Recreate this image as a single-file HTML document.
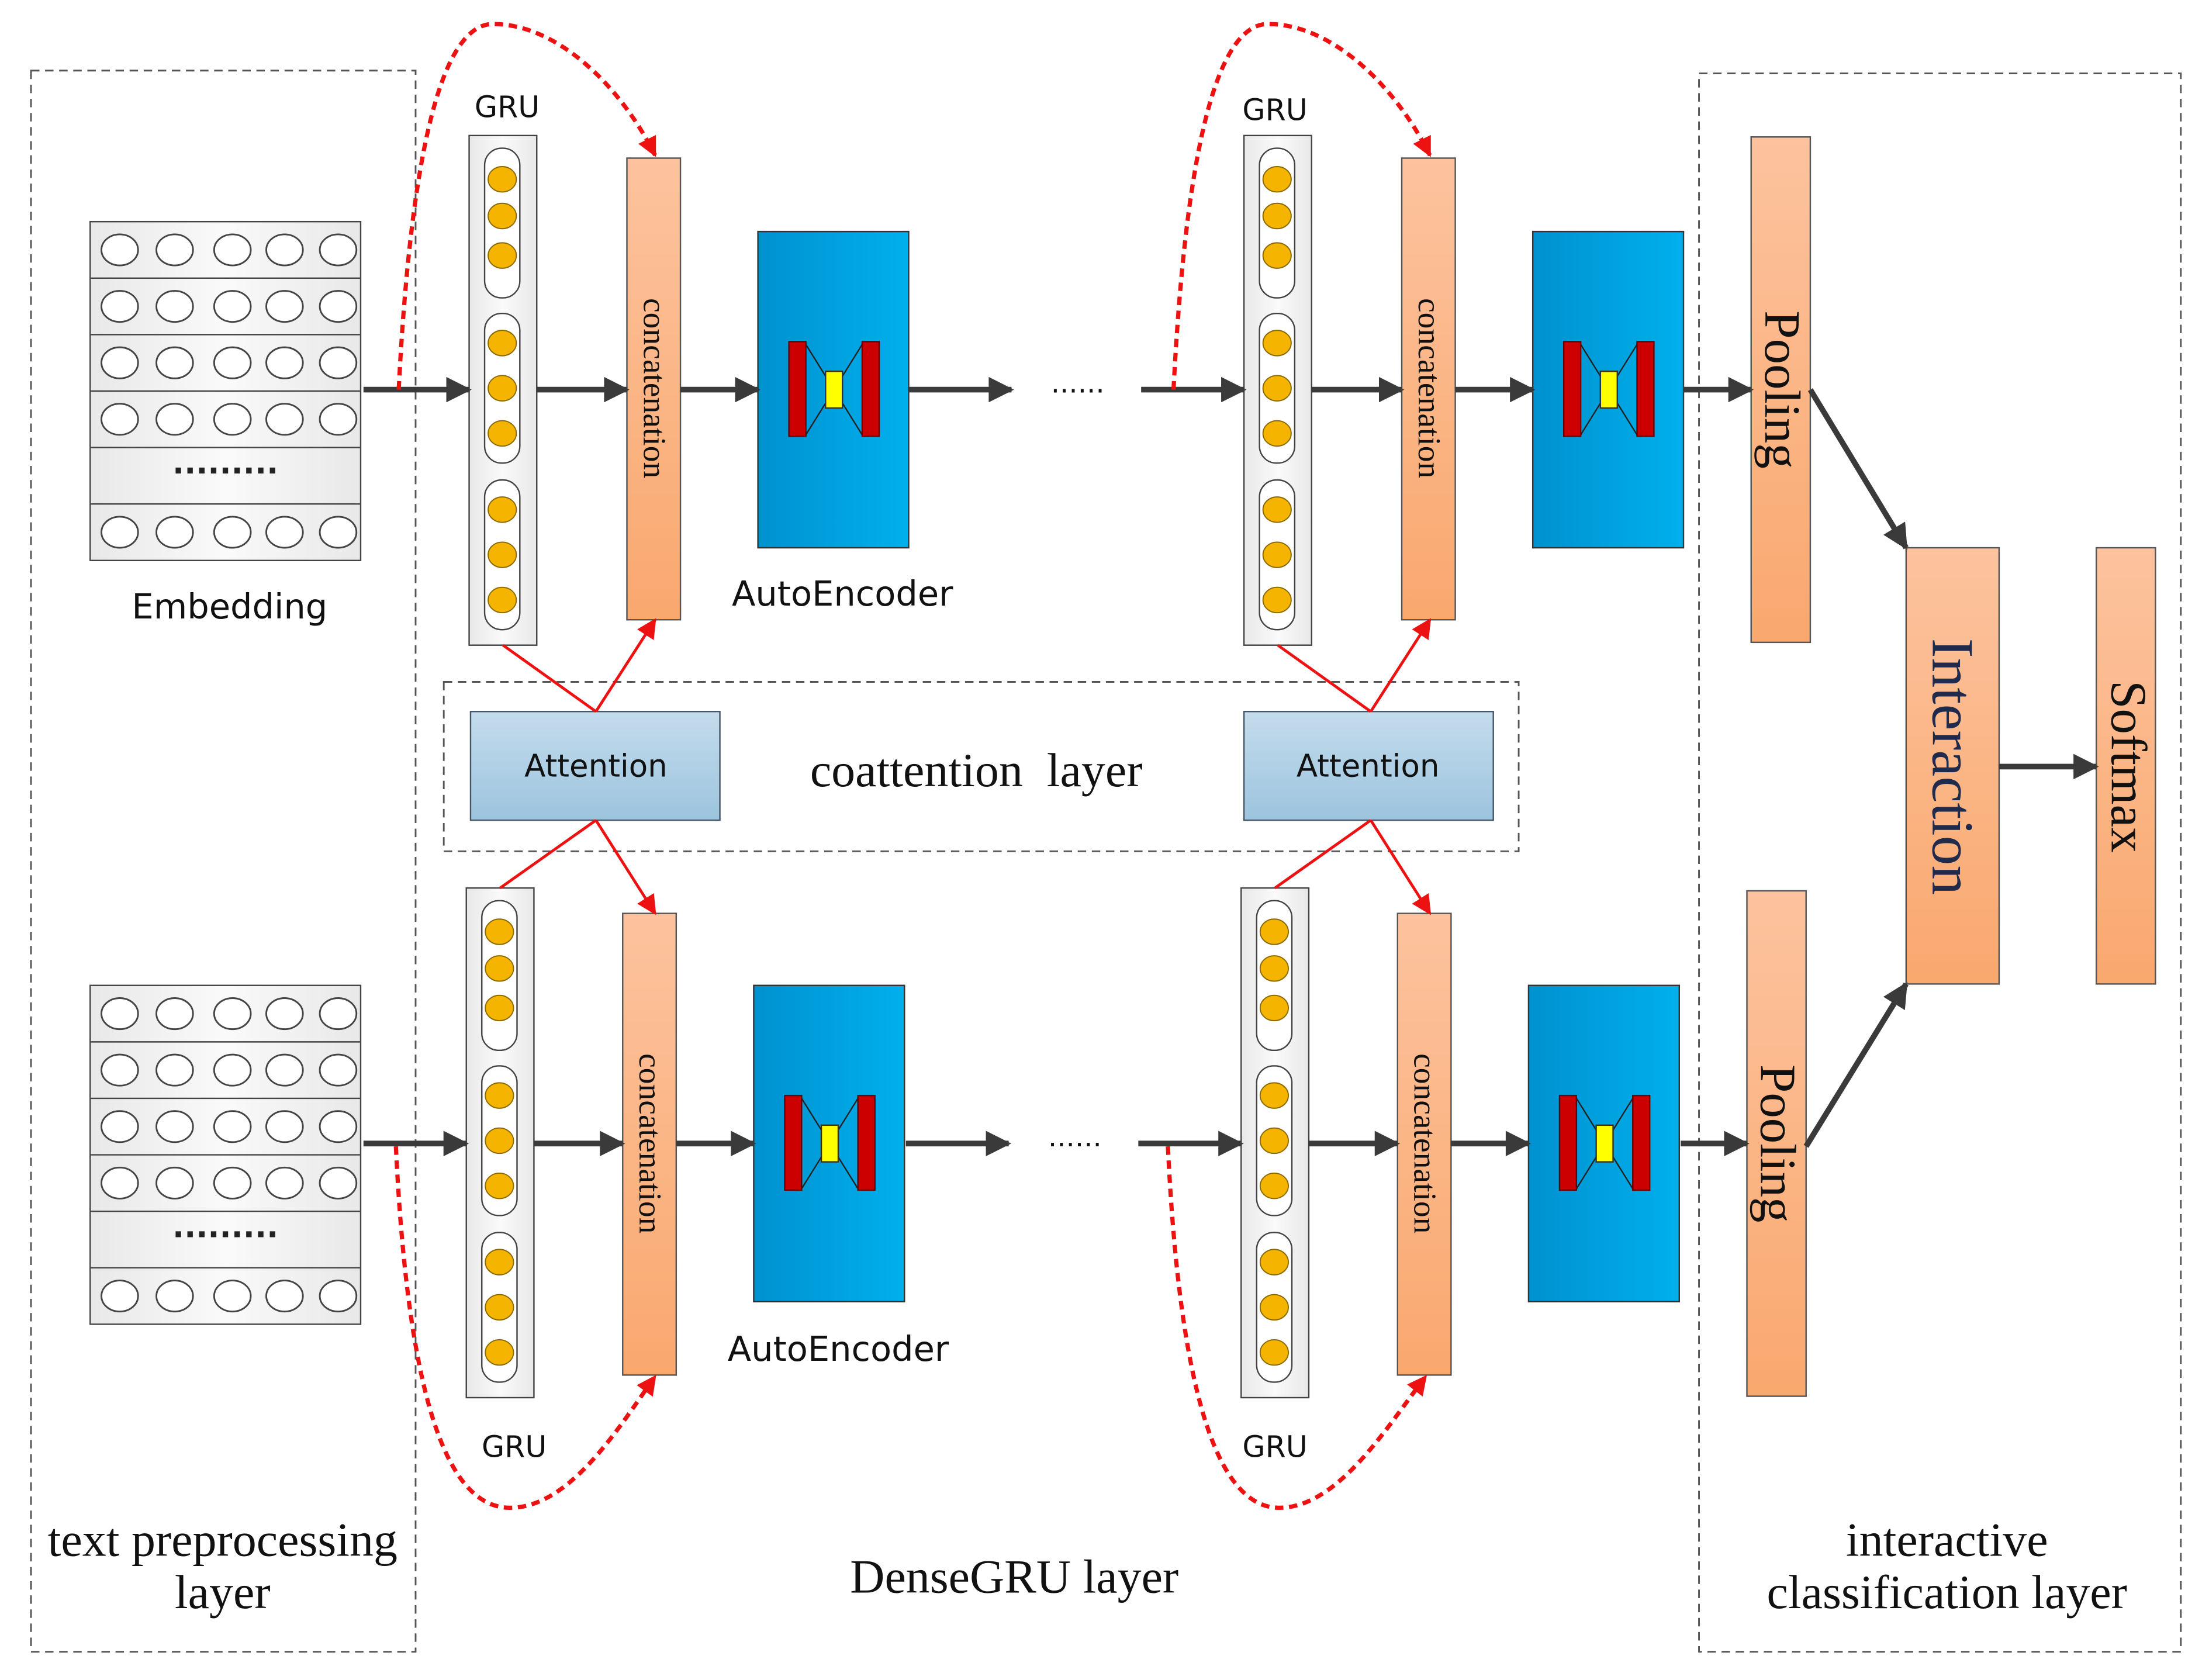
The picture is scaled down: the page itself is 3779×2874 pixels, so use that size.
<!DOCTYPE html>
<html><head><meta charset="utf-8"><style>html,body{margin:0;padding:0;background:#fff}svg{display:block}</style></head><body>
<svg width="3779" height="2874" viewBox="0 0 1568 1190" preserveAspectRatio="none" xmlns="http://www.w3.org/2000/svg">
<defs>
<linearGradient id="or" x1="0" y1="0" x2="0" y2="1"><stop offset="0" stop-color="#FDC39E"/><stop offset="1" stop-color="#F9A86E"/></linearGradient>
<linearGradient id="bl" x1="0" y1="0" x2="1" y2="0"><stop offset="0" stop-color="#0091D0"/><stop offset="1" stop-color="#00B0EC"/></linearGradient>
<linearGradient id="at" x1="0" y1="0" x2="0" y2="1"><stop offset="0" stop-color="#C4DCEC"/><stop offset="1" stop-color="#9CC4DE"/></linearGradient>
<linearGradient id="gr" x1="0" y1="0" x2="1" y2="0"><stop offset="0" stop-color="#E8E8E8"/><stop offset="0.5" stop-color="#FAFAFA"/><stop offset="1" stop-color="#E8E8E8"/></linearGradient>
<marker id="ak" viewBox="0 0 10 10" refX="9" refY="5" markerWidth="22" markerHeight="18" orient="auto" markerUnits="userSpaceOnUse"><path d="M0,0 L10,5 L0,10 z" fill="#3a3a3a"/></marker>
<marker id="ar" viewBox="0 0 10 10" refX="9" refY="5" markerWidth="16" markerHeight="14" orient="auto" markerUnits="userSpaceOnUse"><path d="M0,0 L10,5 L0,10 z" fill="#EE1111"/></marker>
<g id="grid">
<rect x="0" y="0" width="192" height="240" fill="url(#gr)" stroke="#444" stroke-width="1"/>
<g stroke="#444" stroke-width="1"><line x1="0" y1="40" x2="192" y2="40"/><line x1="0" y1="80" x2="192" y2="80"/><line x1="0" y1="120" x2="192" y2="120"/><line x1="0" y1="160" x2="192" y2="160"/><line x1="0" y1="200" x2="192" y2="200"/></g>
<g fill="#fff" stroke="#444" stroke-width="1.2">
<g id="crow"><ellipse cx="21" cy="20" rx="13" ry="11"/><ellipse cx="60" cy="20" rx="13" ry="11"/><ellipse cx="101" cy="20" rx="13" ry="11"/><ellipse cx="138" cy="20" rx="13" ry="11"/><ellipse cx="176" cy="20" rx="13" ry="11"/></g>
<use href="#crow" y="40"/><use href="#crow" y="80"/><use href="#crow" y="120"/><use href="#crow" y="200"/>
</g>
<text x="96" y="184" font-family="DejaVu Sans,sans-serif" font-size="22" font-weight="bold" text-anchor="middle" fill="#222">·········</text>
</g>
<g id="gru">
<rect x="0" y="0" width="48" height="361" fill="url(#gr)" stroke="#444"/>
<g fill="#fff" stroke="#444"><rect x="11" y="9" width="25" height="106" rx="12"/><rect x="11" y="126" width="25" height="106" rx="12"/><rect x="11" y="244" width="25" height="106" rx="12"/></g>
<g fill="#F5B400" stroke="#8a6a00" stroke-width="0.8">
<ellipse cx="23.5" cy="31" rx="10" ry="9"/><ellipse cx="23.5" cy="57" rx="10" ry="9"/><ellipse cx="23.5" cy="85" rx="10" ry="9"/>
<ellipse cx="23.5" cy="147" rx="10" ry="9"/><ellipse cx="23.5" cy="179" rx="10" ry="9"/><ellipse cx="23.5" cy="211" rx="10" ry="9"/>
<ellipse cx="23.5" cy="265" rx="10" ry="9"/><ellipse cx="23.5" cy="297" rx="10" ry="9"/><ellipse cx="23.5" cy="329" rx="10" ry="9"/></g>
</g>
<g id="concat">
<rect x="0" y="0" width="38" height="327" fill="url(#or)" stroke="#555"/>
<text transform="translate(12,163) rotate(90)" font-family="Liberation Serif,serif" font-size="23" text-anchor="middle" fill="#111">concatenation</text>
</g>
<g id="ae">
<rect x="0" y="0" width="107" height="224" fill="url(#bl)" stroke="#333"/>
<g stroke="#222" stroke-width="1"><line x1="34" y1="80" x2="74" y2="144"/><line x1="34" y1="144" x2="74" y2="80"/></g>
<rect x="22" y="78" width="12" height="67" fill="#CC0000" stroke="#600"/>
<rect x="74" y="78" width="12" height="67" fill="#CC0000" stroke="#600"/>
<rect x="48" y="99" width="12" height="26" fill="#FFFF00" stroke="#333"/>
</g>
</defs>

<g fill="none" stroke="#555" stroke-width="1.2" stroke-dasharray="6,4">
<rect x="22" y="50" width="273" height="1120"/>
<rect x="1206" y="52" width="342" height="1118"/>
<rect x="315" y="483" width="763" height="120"/>
</g>

<use href="#grid" x="64" y="157"/>
<use href="#grid" x="64" y="698"/>

<use href="#gru" x="333" y="96"/>
<use href="#gru" x="883" y="96"/>
<use href="#gru" x="331" y="629"/>
<use href="#gru" x="881" y="629"/>

<use href="#concat" x="445" y="112"/>
<use href="#concat" x="995" y="112"/>
<use href="#concat" x="442" y="647"/>
<use href="#concat" x="992" y="647"/>

<use href="#ae" x="538" y="164"/>
<use href="#ae" x="1088" y="164"/>
<use href="#ae" x="535" y="698"/>
<use href="#ae" x="1085" y="698"/>

<rect x="1243" y="97" width="42" height="358" fill="url(#or)" stroke="#555"/>
<rect x="1240" y="631" width="42" height="358" fill="url(#or)" stroke="#555"/>
<rect x="1353" y="388" width="66" height="309" fill="url(#or)" stroke="#555"/>
<rect x="1488" y="388" width="42" height="309" fill="url(#or)" stroke="#555"/>
<g font-family="Liberation Serif,serif" text-anchor="middle">
<text transform="translate(1253,276) rotate(90)" font-size="36" fill="#111">Pooling</text>
<text transform="translate(1250,810) rotate(90)" font-size="36" fill="#111">Pooling</text>
<text transform="translate(1372,543) rotate(90)" font-size="42" fill="#1F2A4D">Interaction</text>
<text transform="translate(1499,543) rotate(90)" font-size="36" fill="#111">Softmax</text>
</g>

<rect x="334" y="504" width="177" height="77" fill="url(#at)" stroke="#456"/>
<rect x="883" y="504" width="177" height="77" fill="url(#at)" stroke="#456"/>

<g stroke="#3a3a3a" stroke-width="4" fill="none" marker-end="url(#ak)">
<line x1="258" y1="276" x2="333" y2="276"/><line x1="381" y1="276" x2="445" y2="276"/><line x1="483" y1="276" x2="538" y2="276"/><line x1="645" y1="276" x2="718" y2="276"/>
<line x1="810" y1="276" x2="883" y2="276"/><line x1="931" y1="276" x2="995" y2="276"/><line x1="1033" y1="276" x2="1088" y2="276"/><line x1="1195" y1="276" x2="1243" y2="276"/>
<line x1="258" y1="810" x2="331" y2="810"/><line x1="379" y1="810" x2="442" y2="810"/><line x1="480" y1="810" x2="535" y2="810"/><line x1="643" y1="810" x2="716" y2="810"/>
<line x1="808" y1="810" x2="881" y2="810"/><line x1="929" y1="810" x2="992" y2="810"/><line x1="1030" y1="810" x2="1085" y2="810"/><line x1="1193" y1="810" x2="1240" y2="810"/>
<line x1="1285" y1="276" x2="1353" y2="388"/><line x1="1282" y1="812" x2="1353" y2="697"/><line x1="1419" y1="543" x2="1488" y2="543"/>
</g>

<g stroke="#EE1111" stroke-width="2" fill="none">
<line x1="357" y1="457" x2="423" y2="504"/><line x1="423" y1="504" x2="465" y2="439" marker-end="url(#ar)"/>
<line x1="907" y1="457" x2="973" y2="504"/><line x1="973" y1="504" x2="1015" y2="439" marker-end="url(#ar)"/>
<line x1="423" y1="581" x2="355" y2="629"/><line x1="423" y1="581" x2="465" y2="647" marker-end="url(#ar)"/>
<line x1="973" y1="581" x2="905" y2="629"/><line x1="973" y1="581" x2="1015" y2="647" marker-end="url(#ar)"/>
</g>
<g stroke="#EE1111" stroke-width="3" fill="none" stroke-dasharray="6,4" marker-end="url(#ar)">
<path d="M283,276 C292,100 315,17 350,17 C395,17 440,60 465,110"/>
<path d="M833,276 C842,100 865,17 900,17 C945,17 990,60 1015,110"/>
<path d="M281,812 C290,1000 320,1068 362,1068 C405,1068 440,1010 465,975"/>
<path d="M829,812 C838,1000 868,1068 908,1068 C950,1068 985,1010 1012,975"/>
</g>

<g font-family="DejaVu Sans,sans-serif" fill="#111" text-anchor="middle">
<text x="360" y="83" font-size="21">GRU</text><text x="905" y="85" font-size="21">GRU</text>
<text x="365" y="1032" font-size="21">GRU</text><text x="905" y="1032" font-size="21">GRU</text>
<text x="163" y="438" font-size="24.5">Embedding</text>
<text x="598" y="429" font-size="24.5">AutoEncoder</text>
<text x="595" y="964" font-size="24.5">AutoEncoder</text>
<text x="423" y="550" font-size="22">Attention</text>
<text x="971" y="550" font-size="22">Attention</text>
<text x="765" y="278" font-size="20">......</text>
<text x="763" y="812" font-size="20">......</text>
</g>
<g font-family="Liberation Serif,serif" fill="#111" text-anchor="middle" font-size="34">
<text x="693" y="557" xml:space="preserve">coattention  layer</text>
<text x="158" y="1102">text preprocessing</text>
<text x="158" y="1139">layer</text>
<text x="720" y="1128">DenseGRU layer</text>
<text x="1382" y="1102">interactive</text>
<text x="1382" y="1139">classification layer</text>
</g>
</svg>
</body></html>
